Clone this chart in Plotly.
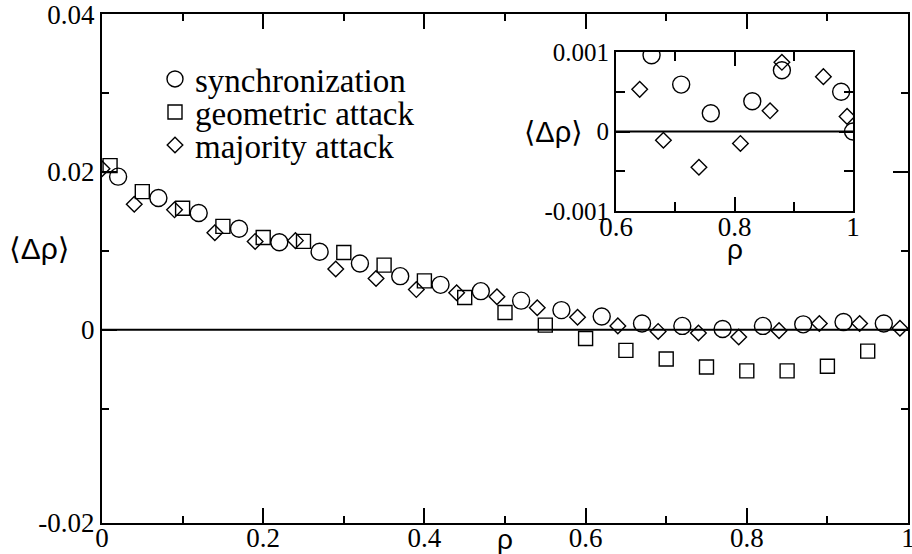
import plotly.graph_objects as go

# main panel data
sync_x = [0.02, 0.07, 0.12, 0.17, 0.22, 0.27, 0.32, 0.37, 0.42, 0.47,
          0.52, 0.57, 0.62, 0.67, 0.72, 0.77, 0.82, 0.87, 0.92, 0.97]
sync_y = [0.0194, 0.0167, 0.0148, 0.0128, 0.0111, 0.0099, 0.0084, 0.0068, 0.0057, 0.0049,
          0.0037, 0.0025, 0.0017, 0.0008, 0.0005, 0.0001, 0.0005, 0.0007, 0.0010, 0.0008]

geom_x = [0.01, 0.05, 0.10, 0.15, 0.20, 0.25, 0.30, 0.35, 0.40, 0.45,
          0.50, 0.55, 0.60, 0.65, 0.70, 0.75, 0.80, 0.85, 0.90, 0.95]
geom_y = [0.0208, 0.0175, 0.0154, 0.0131, 0.0117, 0.0112, 0.0098, 0.0082, 0.0062, 0.0041,
          0.0022, 0.0006, -0.0011, -0.0026, -0.0037, -0.0047, -0.0052, -0.0052, -0.0046, -0.0027]

maj_x = [0.0, 0.04, 0.09, 0.14, 0.19, 0.24, 0.29, 0.34, 0.39, 0.44, 0.49,
         0.54, 0.59, 0.64, 0.69, 0.74, 0.79, 0.84, 0.89, 0.94, 0.99]
maj_y = [0.0204, 0.0159, 0.0152, 0.0123, 0.0112, 0.0113, 0.0077, 0.0065, 0.0051, 0.0047, 0.0042,
         0.0028, 0.0016, 0.0005, -0.0002, -0.0004, -0.0009, -0.0001, 0.0008, 0.0008, 0.0002]

# inset data
ins_sync_x = [0.66, 0.71, 0.76, 0.83, 0.88, 0.98, 1.0]
ins_sync_y = [0.00096, 0.00059, 0.00023, 0.00038, 0.00077, 0.00050, 0.0]
ins_maj_x = [0.64, 0.68, 0.74, 0.81, 0.86, 0.88, 0.95, 0.99]
ins_maj_y = [0.00053, -0.00011, -0.00045, -0.00015, 0.00026, 0.00087, 0.00069, 0.00019]

main_xticks = [0, 0.2, 0.4, 0.6, 0.8, 0.9999]
main_xtext = ['0', '0.2', '0.4', '0.6', '0.8', '1']
main_yticks = [-0.02446, 0, 0.02, 0.0399]
main_ytext = ['-0.02', '0', '0.02', '0.04']
ins_xticks = [0.6, 0.8, 0.9999]
ins_xtext = ['0.6', '0.8', '1']
ins_yticks = [-0.001, 0, 0.001]
ins_ytext = ['-0.001', '0', '0.001']

serif = 'Liberation Serif'
sans = 'Liberation Sans, DejaVu Sans'
mk = dict(color='black', line=dict(color='black', width=1.4))

fig = go.Figure()
fig.add_trace(go.Scatter(x=sync_x, y=sync_y, mode='markers', name='synchronization',
                         legend='legend',
                         marker=dict(symbol='circle-open', size=17, **mk)))
fig.add_trace(go.Scatter(x=geom_x, y=geom_y, mode='markers', name='geometric attack',
                         legend='legend2',
                         marker=dict(symbol='square-open', size=14, **mk)))
fig.add_trace(go.Scatter(x=maj_x, y=maj_y, mode='markers', name='majority attack',
                         legend='legend3',
                         marker=dict(symbol='diamond-open', size=12, **mk)))

fig.add_trace(go.Scatter(x=ins_sync_x, y=ins_sync_y, mode='markers', showlegend=False,
                         xaxis='x2', yaxis='y2',
                         marker=dict(symbol='circle-open', size=17, **mk)))
fig.add_trace(go.Scatter(x=ins_maj_x, y=ins_maj_y, mode='markers', showlegend=False,
                         xaxis='x2', yaxis='y2',
                         marker=dict(symbol='diamond-open', size=12, **mk)))

ax_common = dict(showline=True, linecolor='black', linewidth=2, mirror='allticks',
                 ticks='inside', tickcolor='black', tickwidth=1.5, showgrid=False,
                 zeroline=False, automargin=False, ticklabeloverflow='allow',
                 tickfont=dict(family=serif, size=27, color='black'))
minor_common = dict(ticks='inside', tickcolor='black', tickwidth=1.5)

# one legend box per row so the rows can sit as tight as in the reference
leg_common = dict(x=155/912, xanchor='left', yanchor='middle',
                  font=dict(family=serif, size=33, color='black'),
                  bgcolor='rgba(0,0,0,0)', itemsizing='trace')

fig.update_layout(
    width=912, height=554,
    margin=dict(l=0, r=0, t=0, b=0),
    paper_bgcolor='white', plot_bgcolor='white',
    showlegend=True,
    legend=dict(y=1 - 79/554, **leg_common),
    legend2=dict(y=1 - 112/554, **leg_common),
    legend3=dict(y=1 - 145/554, **leg_common),
    xaxis=dict(domain=[102/912, 908/912], range=[0, 1], anchor='y',
               tickvals=main_xticks, ticktext=main_xtext,
               ticklen=15, ticklabelstandoff=-10,
               minor=dict(tickvals=[0.1, 0.3, 0.5, 0.7, 0.9], ticklen=7, **minor_common),
               **ax_common),
    yaxis=dict(domain=[31/554, 540/554], range=[-0.02446, 0.04], anchor='x',
               tickvals=main_yticks, ticktext=main_ytext, ticklen=15,
               minor=dict(tickvals=[-0.01, 0.01, 0.03], ticklen=7, **minor_common),
               **ax_common),
    xaxis2=dict(domain=[616/912, 853/912], range=[0.6, 1.0], anchor='y2',
                tickvals=ins_xticks, ticktext=ins_xtext, ticklen=14,
                ticklabelstandoff=-9,
                minor=dict(tickvals=[0.7, 0.9], ticklen=9, **minor_common),
                **ax_common),
    yaxis2=dict(domain=[343/554, 502/554], range=[-0.001, 0.001], anchor='x2',
                tickvals=ins_yticks, ticktext=ins_ytext, ticklen=14,
                minor=dict(tickvals=[-0.0005, 0.0005], ticklen=9, **minor_common),
                **ax_common),
)
fig.update_yaxes(tickfont_size=25, selector=dict(anchor='x2'))

# zero reference lines
fig.add_shape(type='line', xref='x', yref='y', x0=0, x1=1, y0=0, y1=0,
              line=dict(color='black', width=2))
fig.add_shape(type='line', xref='x2', yref='y2', x0=0.6, x1=1.0, y0=0, y1=0,
              line=dict(color='black', width=2))

# axis titles, placed by pixel centre
titles = [('⟨Δρ⟩', 39, 249, 30), ('ρ', 505, 539, 28), ('⟨Δρ⟩', 553, 132, 29), ('ρ', 735, 250, 28)]
for txt, px, py, fs in titles:
    fig.add_annotation(x=px / 912, y=1 - py / 554, xref='paper', yref='paper',
                       xanchor='center', yanchor='middle', text=txt, showarrow=False,
                       font=dict(family=sans, size=fs, color='black'))

fig.write_html("out.html", config={'displayModeBar': False},
               post_script="document.body.style.margin='0';")
